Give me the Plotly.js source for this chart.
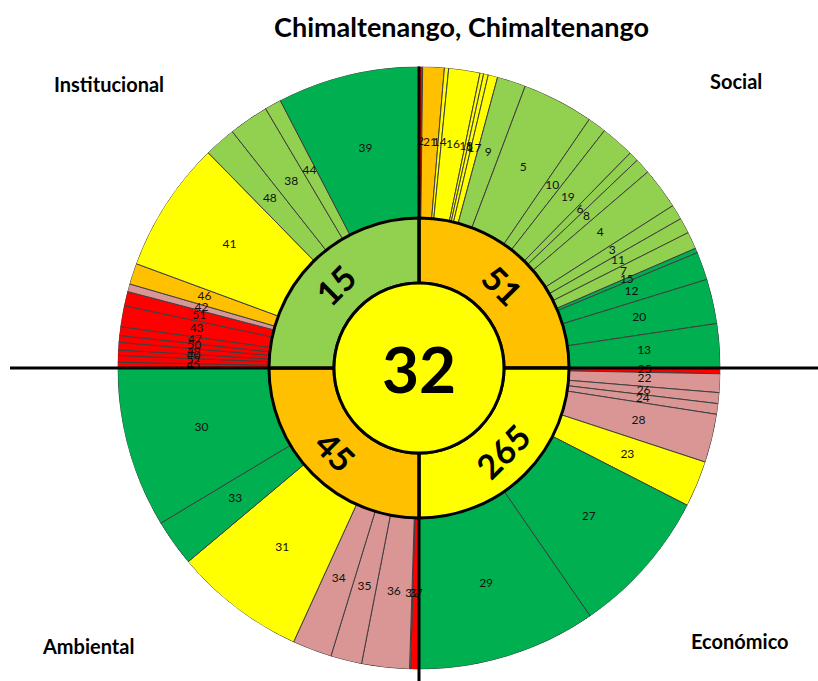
<!DOCTYPE html>
<html><head><meta charset="utf-8">
<script src="https://cdn.plot.ly/plotly-3.0.1.min.js"></script>
<style>html,body{margin:0;padding:0;background:#fff}#chart{width:818px;height:681px}</style>
</head><body><div id="chart"></div>
<script>
// ---------------- data ----------------
const chartTitle = 'Chimaltenango, Chimaltenango';
const overallScore = '32';
const overallRating = 'Y';
const dimensionNames = ['Social', 'Económico', 'Ambiental', 'Institucional'];
const dimensionScores = ['51', '265', '45', '15'];
const dimensionRatings = ['O', 'Y', 'O', 'LG'];

const socialIds = ['2','21','14','16','18','1','17','9','5','10','19','6','8','4','3','11','7','15','12','20','13'];
const socialWeights = [0.7,4.14,0.82,6.03,0.71,0.9,1.83,5.52,13.75,3.6,6.5,1.9,3.0,8.0,2.9,3.0,3.3,0.9,5.4,8.6,8.5];
const socialRatings = ['R','O','Y','Y','Y','Y','Y','LG','LG','LG','LG','LG','LG','LG','LG','LG','LG','G','G','G','G'];

const economicIds = ['25','22','26','24','28','23','27','29'];
const economicWeights = [1.1,3.6,2.1,2.05,9.35,8.9,28.3,34.6];
const economicRatings = ['R','P','P','P','P','Y','G','G'];

const environmentalIds = ['37','32','36','35','34','31','33','30'];
const environmentalWeights = [1.6,0.2,9.2,6.0,7.6,25.4,9.0,31.0];
const environmentalRatings = ['R','P','P','P','P','Y','G','G'];

const institutionalIds = ['45','52','40','49','50','47','43','51','42','46','41','48','38','44','39'];
const institutionalWeights = [1.1,1.3,1.05,1.45,1.3,1.7,4.05,2.75,1.5,4.05,25.35,6.1,7.7,3.2,27.4];
const institutionalRatings = ['R','R','R','R','R','R','R','R','P','O','Y','LG','LG','LG','G'];

// ---------------- style ----------------
const COLORS = {R:'#FF0000', O:'#FFC000', Y:'#FFFF00', LG:'#92D050', G:'#00B050', P:'#DA9694'};
const W = 818, H = 681;
const CX = 419, CY = 368;           // pixel centre of the chart
const R_OUT = 301.5, R_MID = 150, R_IN = 85;
const FONT = 'Lato, "Liberation Sans", sans-serif';

// ---------------- build ----------------
const groups = [
  {ids: socialIds, w: socialWeights, rt: socialRatings},
  {ids: economicIds, w: economicWeights, rt: economicRatings},
  {ids: environmentalIds, w: environmentalWeights, rt: environmentalRatings},
  {ids: institutionalIds, w: institutionalWeights, rt: institutionalRatings}
];
const leafTheta = [], leafWidth = [], leafColor = [], leafText = [];
groups.forEach((g, qi) => {
  const total = g.w.reduce((a, b) => a + b, 0);
  let cum = 0;
  g.w.forEach((v, i) => {
    const span = v / total * 90;
    leafTheta.push(qi * 90 + cum + span / 2);
    leafWidth.push(span);
    cum += span;
    leafColor.push(COLORS[g.rt[i]]);
    leafText.push(g.ids[i]);
  });
});
const dimTheta = dimensionNames.map((_, i) => i * 90 + 45);

const traces = [
  {type: 'barpolar', theta: leafTheta, width: leafWidth, base: R_MID,
   r: leafTheta.map(() => R_OUT - R_MID),
   marker: {color: leafColor, line: {color: '#3f3f3f', width: 1}},
   hoverinfo: 'none', showlegend: false},
  {type: 'barpolar', theta: dimTheta, width: dimTheta.map(() => 90), base: R_IN,
   r: dimTheta.map(() => R_MID - R_IN),
   marker: {color: dimensionRatings.map(k => COLORS[k]), line: {color: '#000', width: 3}},
   hoverinfo: 'none', showlegend: false},
  {type: 'barpolar', theta: [0], width: [360], base: 0, r: [R_IN],
   marker: {color: COLORS[overallRating], line: {color: '#000', width: 3}},
   hoverinfo: 'none', showlegend: false},
  {type: 'scatterpolar', mode: 'text', theta: leafTheta,
   r: leafTheta.map(() => (R_OUT + R_MID) / 2), text: leafText,
   textfont: {family: FONT, size: 12, color: '#111'},
   hoverinfo: 'none', showlegend: false, cliponaxis: false}
];

const px = x => x / W, py = y => 1 - y / H;
const annotations = [];
annotations.push({xref: 'paper', yref: 'paper', x: px(CX), y: py(CY), text: '<b>' + overallScore + '</b>',
  showarrow: false, xanchor: 'center', yanchor: 'middle', font: {family: FONT, size: 64, color: '#000'}});
const rotations = [45, -45, 45, -45];
dimTheta.forEach((t, i) => {
  const rr = (R_IN + R_MID) / 2;
  const a = t * Math.PI / 180;
  annotations.push({xref: 'paper', yref: 'paper', x: px(CX + rr * Math.sin(a)), y: py(CY - rr * Math.cos(a)),
    text: '<b>' + dimensionScores[i] + '</b>', textangle: rotations[i], showarrow: false,
    xanchor: 'center', yanchor: 'middle', font: {family: FONT, size: 34, color: '#000'}});
});
const cornerPos = [[736, 81], [740, 641], [88, 646], [109, 84]];
dimensionNames.forEach((n, i) => {
  annotations.push({xref: 'paper', yref: 'paper', x: px(cornerPos[i][0]), y: py(cornerPos[i][1]),
    text: '<b>' + n + '</b>', showarrow: false, xanchor: 'center', yanchor: 'middle',
    font: {family: FONT, size: 20, color: '#000'}});
});

const line = (x0, y0, x1, y1) => ({type: 'line', xref: 'paper', yref: 'paper', layer: 'above',
  x0: px(x0), y0: py(y0), x1: px(x1), y1: py(y1), line: {color: '#000', width: 3}});
const shapes = [
  line(10, CY, CX - R_IN, CY), line(CX + R_IN, CY, W, CY),
  line(CX, CY - R_OUT, CX, CY - R_IN), line(CX, CY + R_IN, CX, H)
];

const layout = {
  width: W, height: H, margin: {l: 0, r: 0, t: 0, b: 0},
  paper_bgcolor: '#fff', showlegend: false,
  title: {text: '<b>' + chartTitle + '</b>', x: 461.5 / W, y: 1 - 28 / H, xanchor: 'center', yanchor: 'middle',
          font: {family: FONT, size: 27, color: '#000'}},
  polar: {
    domain: {x: [px(CX - R_OUT), px(CX + R_OUT)], y: [py(CY + R_OUT), py(CY - R_OUT)]},
    bgcolor: 'rgba(0,0,0,0)',
    radialaxis: {visible: false, range: [0, R_OUT], autorange: false},
    angularaxis: {visible: false, rotation: 90, direction: 'clockwise'}
  },
  annotations: annotations, shapes: shapes
};
Plotly.newPlot('chart', traces, layout, {displayModeBar: false, staticPlot: true});
</script></body></html>
